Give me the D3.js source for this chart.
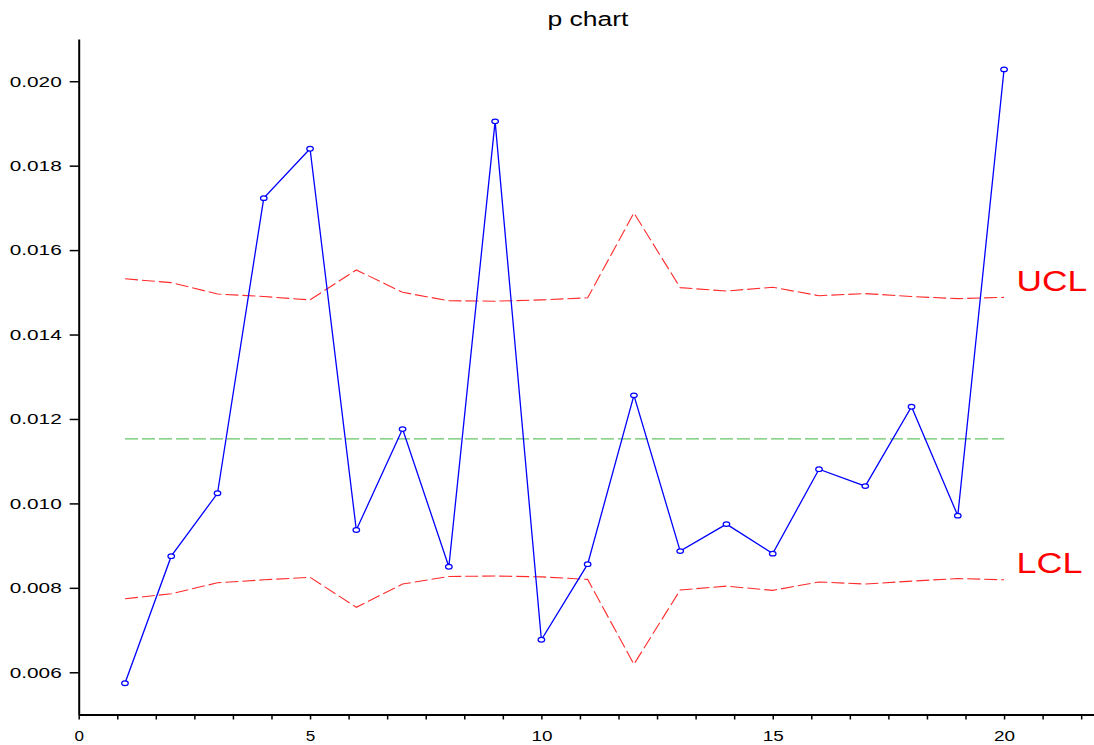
<!DOCTYPE html>
<html>
<head>
<meta charset="utf-8">
<script src="https://cdn.jsdelivr.net/npm/d3@7"></script>
<style>
  html, body { margin: 0; padding: 0; background: #fff; }
  svg { display: block; font-family: "Liberation Sans", Arial, sans-serif; }
</style>
</head>
<body>
<svg id="chart" width="1094" height="745"></svg>
<script>
// ---- data ----
const samples = d3.range(1, 21);
const proportion = [0.00574, 0.00875, 0.01024, 0.01723, 0.01840, 0.00937, 0.01176, 0.00850, 0.01905, 0.00677,
                    0.00856, 0.01256, 0.00887, 0.00951, 0.00881, 0.01081, 0.01041, 0.01229, 0.00971, 0.02028];
const ucl = [0.01532, 0.01523, 0.01496, 0.01490, 0.01482, 0.01553, 0.01500, 0.01480, 0.01479, 0.01482,
             0.01487, 0.01688, 0.01511, 0.01503, 0.01512, 0.01492, 0.01497, 0.01490, 0.01485, 0.01488];
const lcl = [0.00774, 0.00786, 0.00812, 0.00819, 0.00825, 0.00754, 0.00809, 0.00827, 0.00828, 0.00826,
             0.00820, 0.00619, 0.00795, 0.00804, 0.00794, 0.00814, 0.00809, 0.00816, 0.00822, 0.00819];
const centerLine = 0.01153;
const yTickValues = [0.006, 0.008, 0.010, 0.012, 0.014, 0.016, 0.018, 0.020];
const xTickLabels = [0, 5, 10, 15, 20];
const xMinorTicks = d3.range(0, 27).map(k => k * 5 / 6);
const title = "p chart";

// ---- scales ----
const svg = d3.select("#chart");
const x = d3.scaleLinear().domain([0, 22]).range([78.7, 1096.6]);
const y = d3.scaleLinear().domain([0.005, 0.021]).range([714.5, 39]);

// ---- axes ----
const yAxis = d3.axisLeft(y).tickValues(yTickValues).tickFormat(d3.format(".3f"))
  .tickSize(9).tickSizeOuter(0).tickPadding(8);
const gy = svg.append("g").attr("transform", `translate(${x(0)},0)`).call(yAxis);
gy.selectAll("text").attr("font-size", 15).attr("fill", "#000")
  .attr("font-family", "Liberation Sans, Arial, sans-serif")
  .attr("textLength", 52).attr("lengthAdjust", "spacingAndGlyphs");

const xAxis = d3.axisBottom(x).tickValues(xMinorTicks)
  .tickFormat(d => xTickLabels.some(v => Math.abs(v - d) < 1e-9) ? d3.format("d")(Math.round(d)) : "")
  .tickSize(5).tickSizeOuter(0).tickPadding(11);
const gx = svg.append("g").attr("transform", `translate(0,${y(0.005)})`).call(xAxis);
gx.selectAll("text").attr("font-size", 15).attr("fill", "#000")
  .attr("font-family", "Liberation Sans, Arial, sans-serif")
  .each(function(d) {
    const t = d3.select(this).text();
    if (t) d3.select(this).attr("textLength", t.length === 1 ? 9.5 : 21).attr("lengthAdjust", "spacingAndGlyphs");
  });
[gx, gy].forEach(g => {
  g.selectAll("path.domain").attr("stroke", "#000").attr("stroke-width", 2);
  g.selectAll(".tick line").attr("stroke", "#000").attr("stroke-width", 1.5);
});

// ---- control limits ----
const line = d3.line().x((d, i) => x(samples[i])).y(d => y(d));
svg.append("path").datum(ucl).attr("d", line)
  .attr("fill", "none").attr("stroke", "#ff2a2a").attr("stroke-width", 1.1)
  .attr("stroke-dasharray", "13,4");
svg.append("path").datum(lcl).attr("d", line)
  .attr("fill", "none").attr("stroke", "#ff2a2a").attr("stroke-width", 1.1)
  .attr("stroke-dasharray", "13,4");
svg.append("line")
  .attr("x1", x(samples[0])).attr("x2", x(samples[samples.length - 1]))
  .attr("y1", y(centerLine)).attr("y2", y(centerLine))
  .attr("stroke", "#66c466").attr("stroke-width", 1.2).attr("stroke-dasharray", "13,4");

// ---- data series ----
svg.append("path").datum(proportion).attr("d", line)
  .attr("fill", "none").attr("stroke", "#0000ff").attr("stroke-width", 1.3);
svg.selectAll("ellipse.pt").data(proportion).enter().append("ellipse")
  .attr("class", "pt")
  .attr("cx", (d, i) => x(samples[i])).attr("cy", d => y(d))
  .attr("rx", 3.3).attr("ry", 2.3)
  .attr("fill", "#fff").attr("stroke", "#0000ff").attr("stroke-width", 1.2);

// ---- labels ----
svg.append("text").attr("x", 588).attr("y", 26).attr("text-anchor", "middle")
  .attr("font-size", 20).attr("fill", "#000")
  .attr("textLength", 81).attr("lengthAdjust", "spacingAndGlyphs").text(title);
svg.append("text").attr("x", x(20) + 12.5).attr("y", y(ucl[ucl.length - 1]) - 6)
  .attr("font-size", 29).attr("fill", "#ff0000")
  .attr("textLength", 70.6).attr("lengthAdjust", "spacingAndGlyphs").text("UCL");
svg.append("text").attr("x", x(20) + 12.5).attr("y", y(lcl[lcl.length - 1]) - 7)
  .attr("font-size", 29).attr("fill", "#ff0000")
  .attr("textLength", 66).attr("lengthAdjust", "spacingAndGlyphs").text("LCL");
</script>
</body>
</html>
